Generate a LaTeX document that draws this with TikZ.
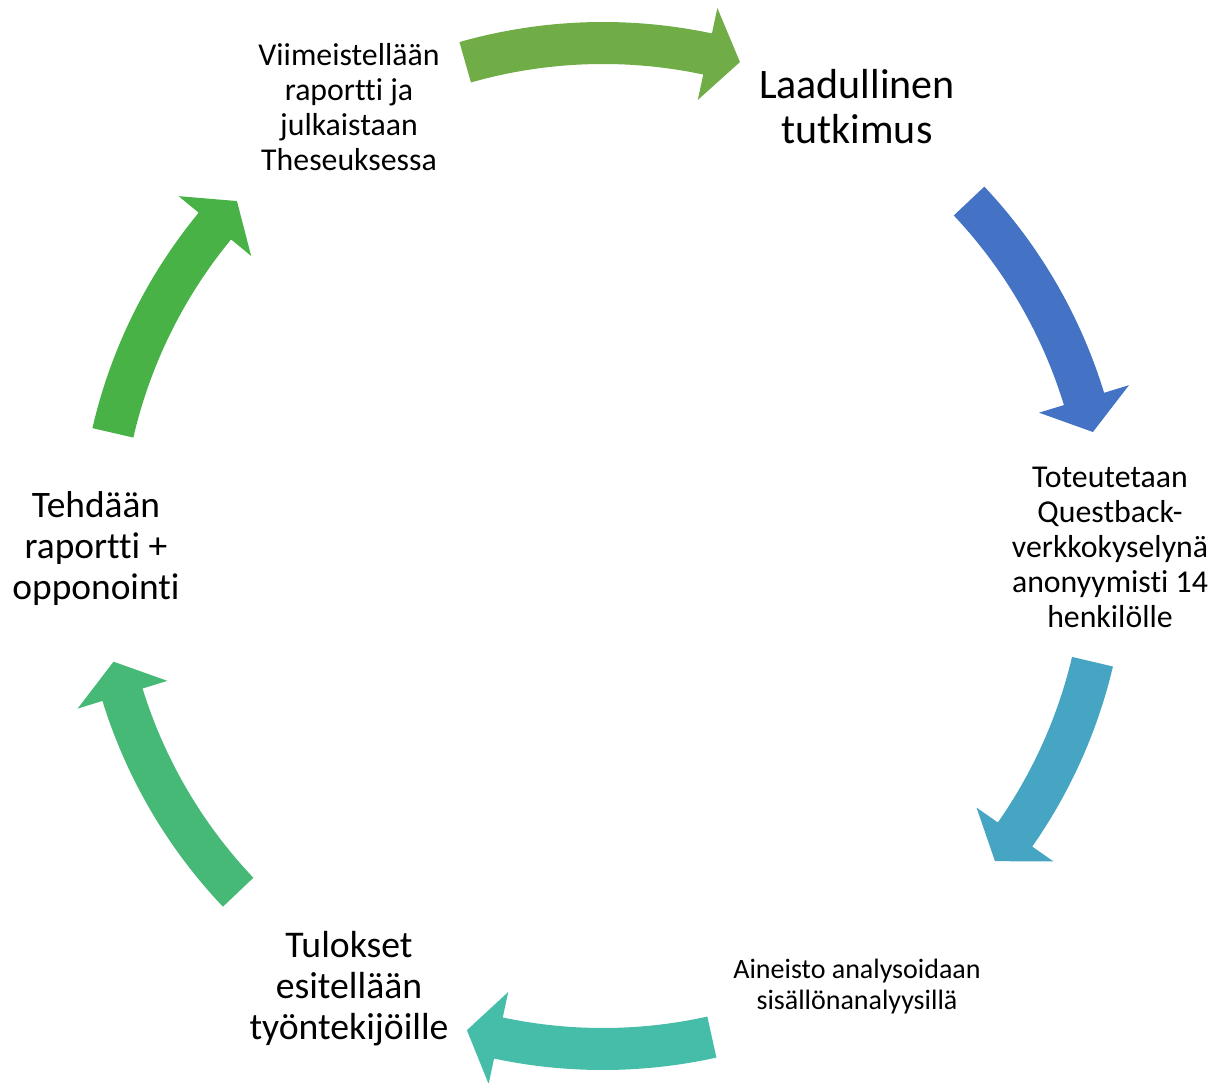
\documentclass[tikz,border=0pt]{standalone}
\usepackage{fontspec}
\setmainfont{Carlito}[Ligatures={NoCommon}]
\definecolor{cycA}{HTML}{70AD47}
\definecolor{cycB}{HTML}{4472C4}
\definecolor{cycC}{HTML}{46A5C2}
\definecolor{cycD}{HTML}{45BDA8}
\definecolor{cycE}{HTML}{47B977}
\definecolor{cycF}{HTML}{48B247}
\begin{document}
\begin{tikzpicture}[x=1pt,y=1pt,
    steptext/.style={align=center, inner sep=0pt}]
    \useasboundingbox (-603,-536) rectangle (623,546);
    % block arrows round the cycle: colour / tail / head base / tip
    \foreach \col/\ta/\tb/\tc in {cycA/105.9/78/74.2, cycB/43.3/17/13.1,
        cycC/-13.3/-35/-38.8, cycD/-77.5/-102/-105.7,
        cycE/-136.5/-162.8/-166.7, cycF/167/140.5/136.7}
        \fill[\col] (\ta:524pt) arc[start angle=\ta, end angle=\tb, radius=524pt]
        -- (\tb:550pt) -- (\tc:503pt) -- (\tb:456pt) -- (\tb:482pt)
        arc[start angle=\tb, end angle=\ta, radius=482pt] -- cycle;
    % steps
    \node[steptext, font=\fontsize{42}{45}\selectfont] (laadullinen) at (254,439)
        {Laadullinen\\tutkimus};
    \node[steptext, font=\fontsize{31.8}{35}\selectfont] (toteutetaan) at (507,-1)
        {Toteutetaan\\Questback-\\verkkokyselynä\\anonyymisti 14\\henkilölle};
    \node[steptext, font=\fontsize{28}{31}\selectfont] (aineisto) at (254,-441)
        {Aineisto analysoidaan\\sisällönanalyysillä};
    \node[steptext, font=\fontsize{37.7}{41}\selectfont] (tulokset) at (-254,-443)
        {Tulokset\\esitellään\\työntekijöille};
    \node[steptext, font=\fontsize{37.4}{41}\selectfont] (raportti) at (-507,-3)
        {Tehdään\\raportti +\\opponointi};
    \node[steptext, font=\fontsize{31.8}{35}\selectfont] (viimeistely) at (-254,439)
        {Viimeistellään\\raportti ja\\julkaistaan\\Theseuksessa};
\end{tikzpicture}
\end{document}
